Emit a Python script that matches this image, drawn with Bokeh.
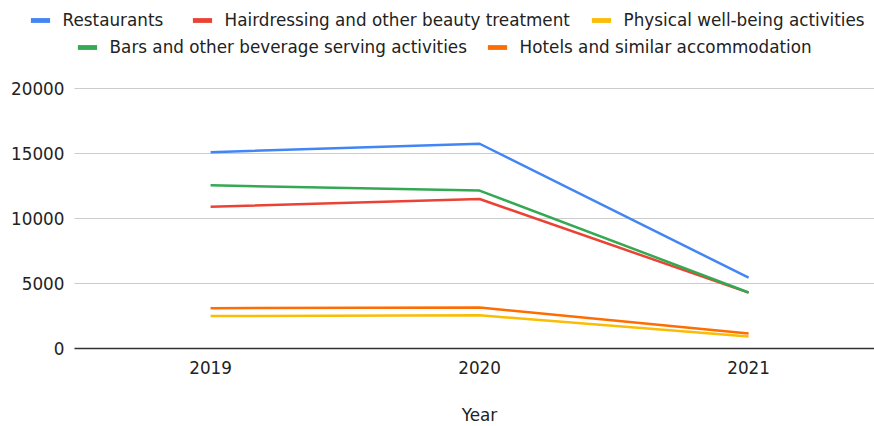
from bokeh.plotting import figure
from bokeh.models import Range1d, Legend, LegendItem, ColumnDataSource
from bokeh.core.properties import value
from bokeh.embed import file_html
from bokeh.resources import INLINE

years = [2019, 2020, 2021]
year_labels = ["2019", "2020", "2021"]
restaurants = [15100, 15750, 5450]
hairdressing = [10900, 11500, 4300]
physical = [2500, 2550, 920]
bars = [12550, 12150, 4310]
hotels = [3100, 3150, 1150]

series_names = ["Restaurants", "Hairdressing and other beauty treatment",
                "Physical well-being activities",
                "Bars and other beverage serving activities",
                "Hotels and similar accommodation"]
series_values = [restaurants, hairdressing, physical, bars, hotels]
colors = ["#4285F4", "#EA4335", "#FBBC04", "#34A853", "#FF6D01"]
y_ticks = [0, 5000, 10000, 15000, 20000]
y_tick_labels = ["0", "5000", "10000", "15000", "20000"]
x_title = "Year"

FONT = "DejaVu Sans"
FS = "16.8px"
TXT = "#222222"

# plot-area limits on the x scale (left edge of the plotting area / right edge)
X_LO, X_HI = 2018.494, 2021.468
X_START = 2018.219

p = figure(width=874, height=426, output_backend="svg", toolbar_location=None,
           x_range=Range1d(X_START, X_HI), y_range=Range1d(-6000, 26769),
           x_axis_type=None, y_axis_type=None,
           min_border_left=0, min_border_right=0, min_border_top=0,
           min_border_bottom=0)
p.outline_line_color = None
p.xgrid.visible = False
p.ygrid.visible = False

# gridlines, baseline and value labels over the plotting area
grid_src = ColumnDataSource(dict(x0=[X_LO] * len(y_ticks), x1=[X_HI] * len(y_ticks),
                                 y=y_ticks, lab=y_tick_labels,
                                 col=["#333333"] + ["#cccccc"] * (len(y_ticks) - 1),
                                 w=[1.5] + [1] * (len(y_ticks) - 1)))
p.segment(x0="x0", y0="y", x1="x1", y1="y", source=grid_src,
          line_color="col", line_width="w")
p.text(x="x0", y="y", text="lab", source=grid_src, x_offset=-10,
       text_align="right", text_baseline="middle",
       text_font=value(FONT), text_font_size=FS, text_color=TXT)

# category (year) labels under the baseline and the axis title
xlab_src = ColumnDataSource(dict(x=years, y=[0] * len(years), lab=year_labels))
p.text(x="x", y="y", text="lab", source=xlab_src, y_offset=19,
       text_align="center", text_baseline="middle",
       text_font=value(FONT), text_font_size=FS, text_color=TXT)
p.text(x=[(X_LO + X_HI) / 2], y=[0], text=[x_title], x_offset=5, y_offset=67,
       text_align="center", text_baseline="middle",
       text_font=value(FONT), text_font_size=FS, text_color=TXT)

legend_items = []
for name, vals, c in zip(series_names, series_values, colors):
    src = ColumnDataSource(dict(x=years, y=vals))
    p.line("x", "y", source=src, line_color=c, line_width=2.5)
    # off-range swatch used only for the legend key
    sw = p.quad(left=[2019], right=[2020], top=[-20000], bottom=[-30000],
                fill_color=c, line_color=None)
    legend_items.append(LegendItem(label=name, renderers=[sw]))

# legend item placement (left of swatch box, bottom of row box) in screen px
legend_pos = [(27.6, 396), (189.6, 396), (588.6, 396), (74.6, 369), (484.6, 369)]
for item, (lx, ly) in zip(legend_items, legend_pos):
    p.add_layout(Legend(items=[item], location=(lx, ly),
                        orientation="horizontal", padding=0, margin=0, spacing=0,
                        glyph_width=24, glyph_height=6, label_standoff=11,
                        label_height=20, label_text_font=FONT,
                        label_text_font_size=FS, label_text_color=TXT,
                        background_fill_alpha=0, border_line_color=None))

open("out.html", "w").write(file_html(p, INLINE))
